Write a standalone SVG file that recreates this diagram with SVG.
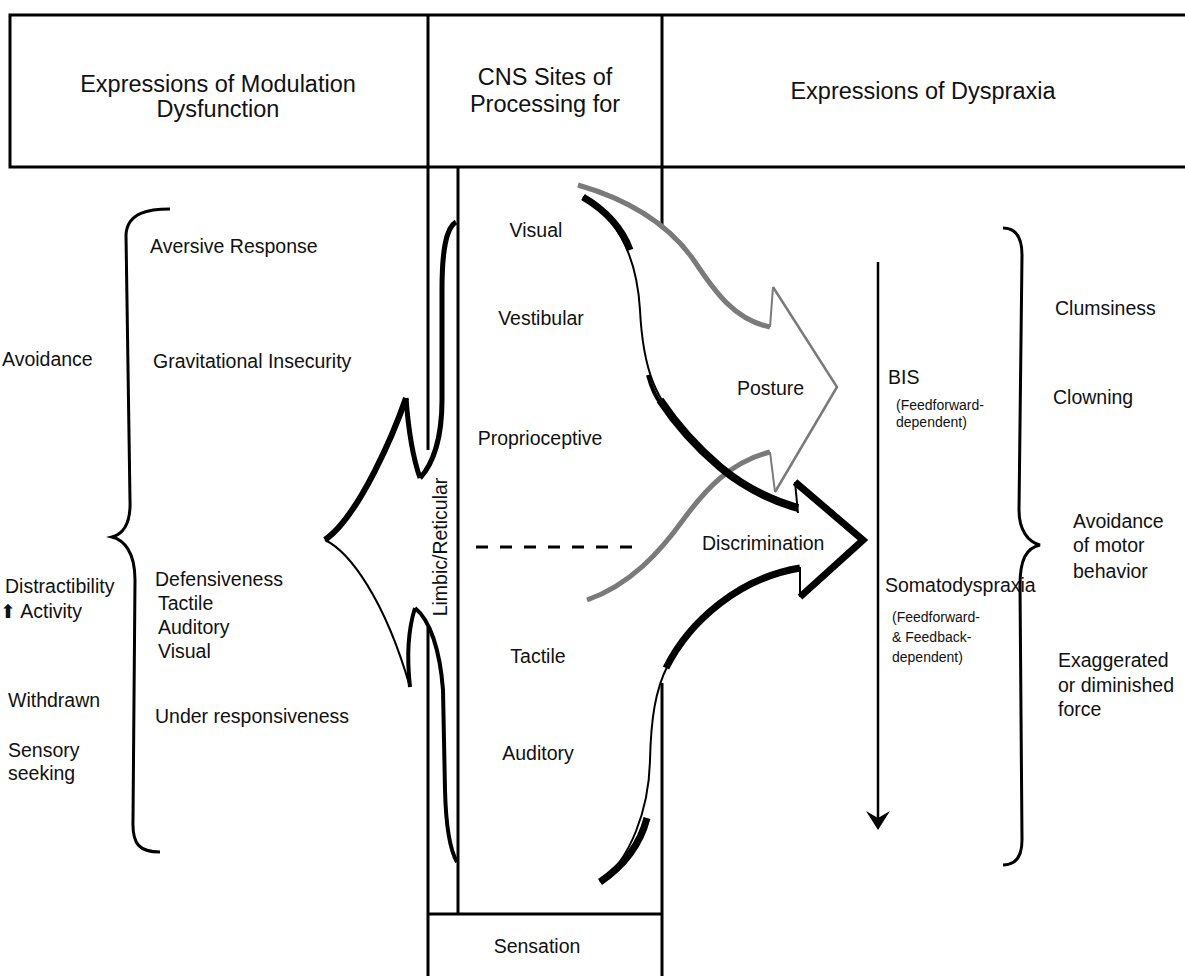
<svg xmlns="http://www.w3.org/2000/svg" width="1185" height="976" viewBox="0 0 1185 976">
<style>
.t{font-family:"Liberation Sans",Arial,sans-serif;font-size:19.5px;fill:#111}
.h{font-family:"Liberation Sans",Arial,sans-serif;font-size:23.5px;fill:#111}
.s{font-family:"Liberation Sans",Arial,sans-serif;font-size:14px;fill:#111}
.c{text-anchor:middle}
.ln{stroke:#000;stroke-width:3;fill:none}
.bk{stroke:#000;fill:none;stroke-linejoin:miter}
.gy{stroke:#7a7a7a;fill:none}
</style>
<rect width="1185" height="976" fill="#fff"/>
<g id="frame">
<path class="ln" d="M1185,15 L10,15 L10,167 L1185,167"/>
<path class="ln" d="M428,15 L428,167 M662,15 L662,167"/>
<path class="ln" stroke-width="2.5" d="M428,167 L428,450 M428,627 L428,976 M458,167 L458,914 M662,167 L662,227 M662,683 L662,976 M428,914 L662,914"/>
</g>
<g id="header-modulation"><text class="h c" x="218" y="92">Expressions of Modulation</text><text class="h c" x="218" y="117">Dysfunction</text></g>
<g id="header-cns"><text class="h c" x="545" y="85">CNS Sites of</text><text class="h c" x="545" y="112">Processing for</text></g>
<g id="header-dyspraxia"><text class="h c" x="923" y="99">Expressions of Dyspraxia</text></g>
<g id="left-brace"><path class="bk" stroke-width="3" d="M170,209 C150,209 127,212 126,235 L130,500 C131,525 123,534 112,537 C124,540 135,552 135,580 L133,820 C132,845 140,852 160,852"/></g>
<g id="left-items">
<text class="t" x="150" y="253">Aversive Response</text>
<text class="t" x="153" y="368">Gravitational Insecurity</text>
<text class="t" x="2" y="366">Avoidance</text>
<text class="t" x="155" y="586">Defensiveness</text>
<text class="t" x="158" y="610">Tactile</text>
<text class="t" x="158" y="634">Auditory</text>
<text class="t" x="158" y="658">Visual</text>
<text class="t" x="155" y="723">Under responsiveness</text>
<text class="t" x="5" y="593">Distractibility</text>
<text class="t" x="0" y="618"><tspan style="font-family:'DejaVu Sans',sans-serif;font-size:19px">⬆</tspan> Activity</text>
<text class="t" x="8" y="707">Withdrawn</text>
<text class="t" x="8" y="757">Sensory</text>
<text class="t" x="8" y="780">seeking</text>
</g>
<g id="cns-items">
<text class="t c" x="536" y="237">Visual</text>
<text class="t c" x="541" y="325">Vestibular</text>
<text class="t c" x="540" y="445">Proprioceptive</text>
<text class="t c" x="538" y="663">Tactile</text>
<text class="t c" x="538" y="760">Auditory</text>
<text class="t c" x="537" y="953">Sensation</text>
<text class="t c" transform="translate(447,547) rotate(-90)" x="0" y="0">Limbic/Reticular</text>
</g>
<g id="connectors">
<g id="limbic-arrow">
<path class="bk" stroke-width="5" d="M456,222 C446,228 442,250 442,290 L442,400 C442,440 432,465 420,478"/>
<path class="bk" stroke-width="5" d="M420,478 C412,455 408,425 406,398"/>
<path class="bk" stroke-width="6" d="M406,398 C395,430 360,515 325,540"/>
<path class="bk" stroke-width="2" d="M325,540 C350,552 385,600 410,687"/>
<path class="bk" stroke-width="4" d="M410,687 C407,660 408,630 415,608"/>
<path class="bk" stroke-width="4" d="M415,608 C430,620 440,650 443,690 L445,790 C446,830 450,850 457,862"/>
</g>
<g id="posture-arrow">
<path class="gy" stroke-width="5" d="M578,185 C630,200 670,225 695,262 C715,292 735,320 770,327"/>
<path class="gy" stroke-width="2" d="M770,327 L773,287"/>
<path class="gy" stroke-width="2.5" d="M773,287 L837,387 L775,492"/>
<path class="gy" stroke-width="2" d="M775,492 L770,452"/>
<path class="gy" stroke-width="5" d="M770,452 C730,462 705,490 683,520 C660,552 630,585 587,600"/>
</g>
<g id="discrimination-arrow">
<path class="bk" stroke-width="2" d="M583,197 C620,220 637,260 640,310 C643,370 655,400 690,437 C720,468 755,495 798,508"/>
<path class="bk" stroke-width="7" d="M583,197 C605,210 622,228 630,250"/>
<path class="bk" stroke-width="4" d="M648,375 C652,390 656,398 662,405"/>
<path class="bk" stroke-width="8" d="M660,400 C680,430 700,450 720,467 C745,488 770,500 798,508"/>
<path class="bk" stroke-width="2" d="M798,513 L795,482"/>
<path class="bk" stroke-width="7" d="M795,482 L863,540 L800,597"/>
<path class="bk" stroke-width="2" d="M800,597 L800,567"/>
<path class="bk" stroke-width="2" d="M800,568 C740,578 690,620 668,665 C655,690 651,720 650,760 C649,810 630,860 600,882"/>
<path class="bk" stroke-width="7" d="M800,568 C740,578 690,620 666,668"/>
<path class="bk" stroke-width="7" d="M647,818 C640,845 625,865 600,882"/>
</g>
<path id="divider-dash" class="bk" stroke-width="3" stroke-dasharray="12 12" d="M476,547 L633,547"/>
<g id="dyspraxia-arrow">
<path class="bk" stroke-width="2.5" d="M878,262 L878,822"/>
<path fill="#000" d="M878,830 L866,811 L878,818 L890,811 Z"/>
</g>
</g>
<g id="arrow-labels">
<text class="t" x="737" y="395">Posture</text>
<text class="t" x="702" y="550">Discrimination</text>
</g>
<g id="dyspraxia-items">
<text class="t" x="888" y="384">BIS</text>
<text class="s" x="896" y="410">(Feedforward-</text>
<text class="s" x="896" y="427">dependent)</text>
<text class="t" x="885" y="592">Somatodyspraxia</text>
<text class="s" x="892" y="622">(Feedforward-</text>
<text class="s" x="892" y="642">&amp; Feedback-</text>
<text class="s" x="892" y="662">dependent)</text>
</g>
<g id="right-brace"><path class="bk" stroke-width="3" d="M1003,228 C1015,228 1022,236 1022,255 L1019,510 C1019,530 1028,542 1040,545 C1026,548 1020,560 1020,585 L1022,840 C1022,858 1015,865 1003,865"/></g>
<g id="right-items">
<text class="t" x="1055" y="315">Clumsiness</text>
<text class="t" x="1053" y="404">Clowning</text>
<text class="t" x="1073" y="528">Avoidance</text>
<text class="t" x="1073" y="552">of motor</text>
<text class="t" x="1073" y="578">behavior</text>
<text class="t" x="1058" y="667">Exaggerated</text>
<text class="t" x="1058" y="692">or diminished</text>
<text class="t" x="1058" y="716">force</text>
</g>
</svg>
